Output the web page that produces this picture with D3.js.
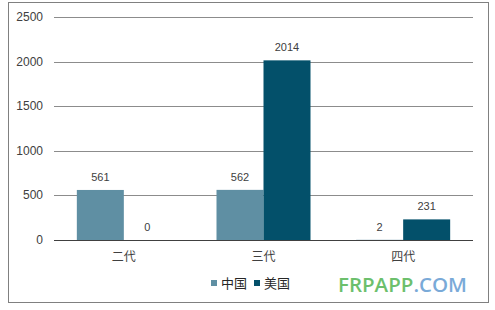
<!DOCTYPE html>
<html>
<head>
<meta charset="utf-8">
<script src="https://cdn.jsdelivr.net/npm/d3@7"></script>
<style>
  body { margin: 0; background: #fff; }
  text { font-family: "Liberation Sans", Arial, "Noto Sans CJK SC", sans-serif; }
</style>
</head>
<body>
<div id="chart"></div>
<script>
const categories = ["二代", "三代", "四代"];
const seriesNames = ["中国", "美国"];
const chinaValues = [561, 562, 2];
const usaValues = [0, 2014, 231];
const yTicks = [0, 500, 1000, 1500, 2000, 2500];
const colors = ["#5f8fa3", "#03506a"];

const width = 495, height = 310;
const margin = {top: 17, right: 22, bottom: 70, left: 54};

const svg = d3.select("#chart").append("svg")
    .attr("width", width)
    .attr("height", height);

// outer frame
svg.append("rect")
    .attr("x", 8.5).attr("y", 2.5)
    .attr("width", 480).attr("height", 300)
    .style("fill", "none")
    .style("stroke", "#808080")
    .style("stroke-width", 1);

const x = d3.scaleBand()
    .domain(categories)
    .range([margin.left, width - margin.right])
    .paddingInner(0)
    .paddingOuter(0);

const y = d3.scaleLinear()
    .domain([0, 2500])
    .range([height - margin.bottom, margin.top]);

const sub = d3.scaleBand()
    .domain(seriesNames)
    .range([0, 94]);

// gridlines
svg.append("g")
    .selectAll("line")
    .data(yTicks.filter(d => d > 0))
    .enter().append("line")
    .attr("x1", margin.left).attr("x2", width - margin.right)
    .attr("y1", d => Math.round(y(d)) + 0.5)
    .attr("y2", d => Math.round(y(d)) + 0.5)
    .style("stroke", "#8c8c8c")
    .style("stroke-width", 1);

// y labels
svg.append("g")
    .selectAll("text")
    .data(yTicks)
    .enter().append("text")
    .attr("x", 43)
    .attr("y", d => y(d) + 4)
    .attr("text-anchor", "end")
    .style("font-size", "12px")
    .style("fill", "#404040")
    .text(d => d);

const rows = categories.map((c, i) => ({cat: c, vals: [chinaValues[i], usaValues[i]]}));

const groups = svg.append("g").selectAll("g")
    .data(rows)
    .enter().append("g")
    .attr("transform", d => "translate(" + (x(d.cat) + x.bandwidth() / 2 - 47) + ",0)");

groups.selectAll("rect")
    .data(d => d.vals.map((v, j) => ({name: seriesNames[j], v: v, j: j})))
    .enter().append("rect")
    .attr("x", d => sub(d.name))
    .attr("width", sub.bandwidth())
    .attr("y", d => y(d.v))
    .attr("height", d => y(0) - y(d.v))
    .style("fill", d => colors[d.j]);

groups.selectAll("text")
    .data(d => d.vals.map((v, j) => ({name: seriesNames[j], v: v})))
    .enter().append("text")
    .attr("x", d => sub(d.name) + sub.bandwidth() / 2)
    .attr("y", d => y(d.v) - 9)
    .attr("text-anchor", "middle")
    .style("font-size", "11px")
    .style("fill", "#404040")
    .text(d => d.v);

// baseline
svg.append("line")
    .attr("x1", margin.left).attr("x2", width - margin.right)
    .attr("y1", y(0) + 0.5).attr("y2", y(0) + 0.5)
    .style("stroke", "#404040")
    .style("stroke-width", 1);

// category labels
svg.append("g").selectAll("text")
    .data(categories)
    .enter().append("text")
    .attr("x", d => x(d) + x.bandwidth() / 2)
    .attr("y", 261)
    .attr("text-anchor", "middle")
    .style("font-size", "12px")
    .style("fill", "#404040")
    .text(d => d);

// legend
const legendX = [211, 254];
const legend = svg.append("g").selectAll("g")
    .data(seriesNames)
    .enter().append("g")
    .attr("transform", (d, i) => "translate(" + legendX[i] + ",0)");
legend.append("rect")
    .attr("x", 0).attr("y", 280)
    .attr("width", 6).attr("height", 6)
    .style("fill", (d, i) => colors[i]);
legend.append("text")
    .attr("x", 10).attr("y", 288)
    .style("font-size", "13px")
    .style("fill", "#262626")
    .text(d => d);

// watermark
const wm = svg.append("text")
    .attr("x", 338).attr("y", 292)
    .style("font-family", "'Open Sans', 'Noto Sans', sans-serif")
    .style("font-size", "20.5px")
    .style("font-weight", "600");
wm.append("tspan").style("fill", "#6cbf6c").text("FRPAPP");
wm.append("tspan").style("fill", "#7aaad8").text(".COM");
</script>
</body>
</html>
